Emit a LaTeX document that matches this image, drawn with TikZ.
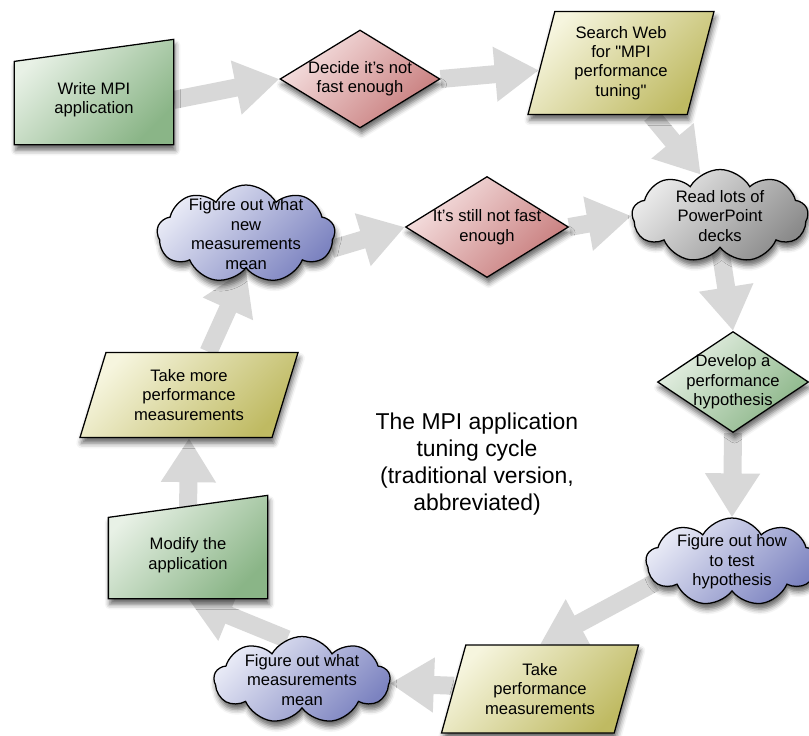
\documentclass[tikz,border=0pt]{standalone}
\usepackage{fontspec}
\setmainfont{Liberation Sans}
\usetikzlibrary{arrows.meta,shapes.geometric,shapes.symbols,backgrounds,shadows.blur}

\definecolor{greenlight}{HTML}{E8F1E6}
\definecolor{greendark}{HTML}{8AB587}
\definecolor{pinklight}{HTML}{F6E2E2}
\definecolor{pinkdark}{HTML}{C77B7B}
\definecolor{yellowlight}{HTML}{F6F5DE}
\definecolor{yellowdark}{HTML}{BFBA62}
\definecolor{greylight}{HTML}{EAEAEA}
\definecolor{greydark}{HTML}{8A8A8A}
\definecolor{bluelight}{HTML}{E8EAF6}
\definecolor{bluedark}{HTML}{7C83C0}
\definecolor{arrowgrey}{HTML}{D8D8D8}

\begin{document}
\begin{tikzpicture}[x=0.25mm,y=-0.25mm]
  \tikzstyle{shadowed}=[blur shadow={shadow xshift=0.4mm, shadow yshift=-1.4mm, shadow blur radius=1.3mm, shadow opacity=60}]
  \tikzstyle{box_base}=[draw=black, line width=0.9pt, align=center, font=\fontsize{11.8}{13.8}\selectfont]
  \tikzstyle{fill_green}=[top color=greenlight, bottom color=greendark, shading angle=45]
  \tikzstyle{fill_pink}=[top color=pinklight, bottom color=pinkdark, shading angle=45]
  \tikzstyle{fill_yellow}=[top color=yellowlight, bottom color=yellowdark, shading angle=45]
  \tikzstyle{fill_grey}=[top color=greylight, bottom color=greydark, shading angle=45]
  \tikzstyle{fill_blue}=[top color=bluelight, bottom color=bluedark, shading angle=45]
  \tikzstyle{manual}=[box_base, draw=none, rectangle, inner sep=0pt, minimum width=39.5mm, minimum height=22mm]
  \tikzstyle{decision}=[box_base, shadowed, diamond, inner xsep=-2mm, inner ysep=-4mm]
  \tikzstyle{inout}=[box_base, shadowed, fill_yellow, trapezium, inner sep=0pt, trapezium stretches body]
  \tikzstyle{thought}=[box_base, shadowed, cloud, cloud puffs=9, cloud puff arc=120, cloud ignores aspect, inner xsep=-8mm, inner ysep=-5mm]
  \tikzstyle{flow}=[draw=arrowgrey, line width=4.5mm, -{Triangle[length=11mm,width=13mm]}]

  \useasboundingbox (0,0) rectangle (809,735);

  % top row
  \node (write) at (94,100) [manual] {Write MPI\\application};
  \node (decide) at (360,79) [decision, fill_pink, minimum width=40mm, minimum height=24.5mm] {Decide it's not\\fast enough};
  \node (search) at (621,63) [inout, trapezium left angle=70, trapezium right angle=110, minimum width=46.5mm, minimum height=25.75mm] {Search Web\\for \textquotedbl MPI\\performance\\tuning\textquotedbl};

  % right side
  \node (read) at (720,216) [thought, fill_grey, minimum width=44mm, minimum height=23.25mm] {Read lots of\\PowerPoint\\decks};
  \node (hypo) at (733,382) [decision, fill_green, minimum width=37.75mm, minimum height=25.25mm] {Develop a\\performance\\hypothesis};
  \node (howtest) at (732,562) [thought, fill_blue, minimum width=43mm, minimum height=22mm] {Figure out how\\to test\\hypothesis};

  % bottom row
  \node (takeperf) at (540,689) [inout, trapezium left angle=64.5, trapezium right angle=115.5, minimum width=49.25mm, minimum height=22mm] {Take\\performance\\measurements};
  \node (meaning) at (302,680) [thought, fill_blue, minimum width=44mm, minimum height=21.75mm] {Figure out what\\measurements\\mean};

  % left side
  \node (modify) at (188,555) [manual, minimum height=21.5mm] {Modify the\\application};
  \node (takemore) at (189,395) [inout, trapezium left angle=63, trapezium right angle=117, minimum width=54.5mm, minimum height=21.25mm] {Take more\\performance\\measurements};
  \node (newmeaning) at (246,234) [thought, fill_blue, minimum width=44.5mm, minimum height=24.5mm] {Figure out what\\new\\measurements\\mean};
  \node (still) at (487,227) [decision, fill_pink, minimum width=40.75mm, minimum height=25.25mm] {It's still not fast\\enough};

  \node (title) at (477,464) [align=center, font=\fontsize{16.3}{19.1}\selectfont] {The MPI application\\tuning cycle\\(traditional version,\\abbreviated)};

  \begin{scope}[on background layer]
    \draw[flow] (write.east) -- (decide.west);
    \draw[flow] (decide.east) -- (search);
    \draw[flow] (search.-60) -- (read.115);
    \draw[flow] (still.east) -- (read.west);
    \draw[flow] (read.south) -- (hypo.north);
    \draw[flow] (hypo.south) -- (howtest.north);
    \draw[flow] (howtest.195) -- (takeperf.north);
    \draw[flow] (takeperf) -- (meaning);
    \draw[flow] (meaning.110) -- (modify.south);
    \draw[flow] (modify.north) -- (takemore.south);
    \draw[flow] (takemore) -- (newmeaning.south);
    \draw[flow] (newmeaning.-10) -- (still.west);

    % slanted-top boxes behind their text
    \foreach \n in {write,modify}
      \path[draw=black, line width=0.9pt, fill_green, shadowed]
        (\n.south west) -- ([yshift=-1.5mm]\n.north west) -- ([yshift=4mm]\n.north east) -- (\n.south east) -- cycle;
  \end{scope}
\end{tikzpicture}
\end{document}
